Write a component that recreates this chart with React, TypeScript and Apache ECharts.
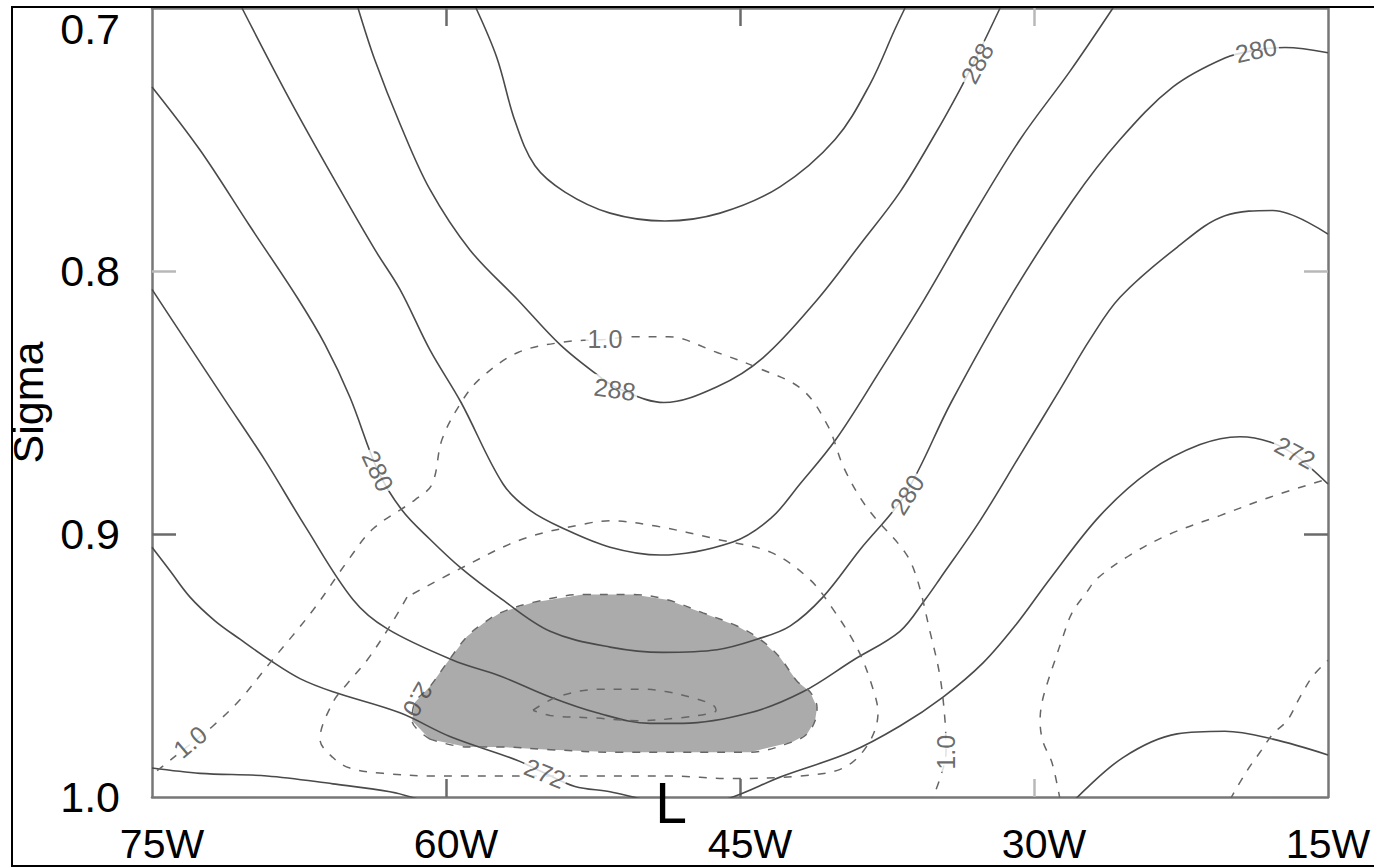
import React, { useEffect, useRef } from 'react';
import * as echarts from 'echarts';

// ---- axis ticks / labels ----
const xLabelValues = [-75, -60, -45, -30, -15];
const xDarkTicks = [-60, -45];
const xLightTicks = [-30];
const yDarkTicks = [0.9];
const yLightTicks = [0.8];

// ---- solid contours (potential temperature) [lon(E, negative = W), sigma] ----
const theta292 = [[-58.47,0.700],[-57.40,0.719],[-56.48,0.743],[-55.46,0.760],[-53.93,0.770],[-51.63,0.778],[-48.83,0.781],[-46.02,0.778],[-42.96,0.768],[-40.15,0.750],[-38.37,0.729],[-37.09,0.708],[-36.58,0.700]];
const theta288 = [[-64.49,0.700],[-63.62,0.720],[-62.35,0.744],[-60.82,0.769],[-58.78,0.792],[-56.33,0.811],[-54.18,0.828],[-52.19,0.840],[-51.12,0.845],[-48.88,0.850],[-46.17,0.844],[-43.83,0.833],[-41.07,0.811],[-38.88,0.790],[-36.84,0.770],[-35.05,0.748],[-33.78,0.731],[-32.76,0.716],[-31.73,0.700]];
const theta284 = [[-70.41,0.700],[-67.96,0.735],[-65.41,0.769],[-63.62,0.792],[-62.35,0.807],[-60.82,0.830],[-59.23,0.850],[-57.09,0.881],[-55.71,0.891],[-53.98,0.898],[-51.63,0.905],[-49.08,0.908],[-45.36,0.903],[-43.42,0.894],[-41.94,0.881],[-40.10,0.864],[-37.86,0.838],[-35.61,0.811],[-33.27,0.781],[-30.71,0.750],[-28.16,0.724],[-25.97,0.700]];
const theta280 = [[-75.00,0.730],[-72.55,0.754],[-70.00,0.783],[-67.60,0.810],[-66.17,0.828],[-64.90,0.848],[-63.47,0.876],[-62.24,0.891],[-60.82,0.902],[-59.23,0.913],[-57.30,0.924],[-54.69,0.937],[-51.63,0.943],[-48.93,0.945],[-46.17,0.944],[-44.13,0.940],[-42.45,0.935],[-40.77,0.924],[-38.88,0.906],[-36.58,0.885],[-34.23,0.850],[-31.22,0.810],[-28.01,0.773],[-25.61,0.750],[-22.91,0.730],[-20.26,0.719],[-18.67,0.716],[-17.19,0.715],[-15.00,0.717]];
const theta276 = [[-75.00,0.807],[-73.32,0.826],[-71.28,0.849],[-69.23,0.872],[-67.19,0.897],[-64.74,0.925],[-63.01,0.936],[-59.64,0.948],[-57.24,0.954],[-54.69,0.962],[-52.30,0.968],[-49.59,0.972],[-47.91,0.972],[-44.49,0.968],[-41.79,0.960],[-39.23,0.948],[-36.84,0.937],[-35.56,0.925],[-34.80,0.917],[-32.76,0.895],[-30.71,0.870],[-28.67,0.845],[-27.14,0.826],[-25.61,0.810],[-22.70,0.791],[-20.26,0.779],[-17.81,0.777],[-15.00,0.786]];
const theta272 = [[-75.00,0.905],[-74.08,0.914],[-73.06,0.924],[-71.79,0.933],[-70.51,0.940],[-68.98,0.948],[-67.45,0.955],[-65.77,0.960],[-62.35,0.968],[-59.80,0.977],[-56.38,0.986],[-54.95,0.991],[-53.42,0.996],[-51.63,0.998],[-49.85,1.001],[-47.81,1.003],[-45.77,1.001],[-42.81,0.992],[-39.39,0.983],[-36.84,0.973],[-34.64,0.962],[-32.60,0.949],[-30.87,0.934],[-29.18,0.917],[-26.63,0.893],[-24.08,0.876],[-21.53,0.866],[-19.49,0.863],[-17.96,0.865],[-16.68,0.870],[-15.00,0.881]];
const theta268West = [[-75.00,0.989],[-72.55,0.991],[-69.13,0.992],[-65.77,0.995],[-62.86,0.998],[-61.33,1.001]];
const theta268East = [[-27.91,1.001],[-25.46,0.985],[-22.70,0.976],[-20.26,0.975],[-17.81,0.978],[-15.00,0.984]];

// ---- dashed contours ----
const dash10 = [[-74.74,0.990],[-73.06,0.980],[-71.89,0.973],[-70.51,0.963],[-68.98,0.949],[-66.79,0.929],[-64.90,0.909],[-63.72,0.898],[-61.58,0.887],[-60.71,0.881],[-60.20,0.864],[-59.23,0.850],[-58.27,0.841],[-56.33,0.831],[-53.98,0.827],[-51.89,0.826],[-50.46,0.825],[-48.67,0.825],[-46.17,0.831],[-44.03,0.837],[-41.84,0.845],[-40.51,0.859],[-39.69,0.875],[-38.52,0.890],[-36.58,0.907],[-35.97,0.917],[-35.31,0.937],[-34.80,0.954],[-34.54,0.971],[-34.49,0.983],[-34.80,0.993],[-35.20,1.001]];
const dash15 = [[-61.99,0.924],[-62.86,0.935],[-64.03,0.948],[-65.05,0.957],[-65.77,0.964],[-66.43,0.978],[-65.77,0.985],[-64.90,0.989],[-63.21,0.991],[-60.66,0.992],[-57.24,0.992],[-52.14,0.992],[-48.72,0.992],[-45.36,0.993],[-41.94,0.992],[-39.74,0.989],[-38.47,0.980],[-37.96,0.968],[-38.21,0.959],[-38.98,0.944],[-40.31,0.928],[-41.48,0.917],[-43.42,0.907],[-46.17,0.902],[-49.29,0.897],[-51.63,0.895],[-52.81,0.896],[-56.12,0.902],[-59.23,0.913],[-61.99,0.924]];
const dash20 = [[-60.82,0.978],[-61.73,0.971],[-61.58,0.964],[-60.82,0.958],[-59.95,0.949],[-58.93,0.939],[-58.11,0.934],[-57.24,0.930],[-55.56,0.926],[-53.01,0.923],[-50.46,0.923],[-48.72,0.925],[-46.89,0.930],[-45.15,0.935],[-43.98,0.940],[-42.96,0.947],[-42.09,0.956],[-41.43,0.960],[-41.07,0.966],[-41.17,0.971],[-41.58,0.976],[-42.30,0.979],[-44.49,0.983],[-47.91,0.983],[-51.28,0.983],[-54.69,0.982],[-57.24,0.981],[-58.93,0.981],[-60.82,0.978]];
const dash30 = [[-55.56,0.967],[-54.34,0.962],[-52.14,0.959],[-50.97,0.959],[-49.95,0.959],[-48.72,0.960],[-47.55,0.962],[-46.38,0.965],[-46.22,0.967],[-46.38,0.968],[-48.21,0.970],[-50.26,0.971],[-52.30,0.970],[-54.69,0.969],[-55.56,0.967]];
const dashEast1 = [[-28.67,1.001],[-29.08,0.987],[-29.54,0.979],[-29.69,0.971],[-29.59,0.964],[-29.29,0.956],[-28.93,0.948],[-28.52,0.939],[-28.06,0.930],[-27.30,0.922],[-26.79,0.917],[-25.10,0.908],[-23.06,0.900],[-20.51,0.893],[-17.96,0.886],[-15.00,0.879]];
const dashEast2 = [[-20.00,1.001],[-19.13,0.990],[-18.47,0.983],[-17.81,0.976],[-17.09,0.971],[-16.43,0.962],[-15.77,0.954],[-15.00,0.948]];

// ---- contour labels: [lon, sigma, text, rotation] ----
const contourLabels: [number, number, string, number][] = [
  [-32.91, 0.721, '288', 62],
  [-18.67, 0.716, '280', 12],
  [-51.89, 0.826, '1.0', 0],
  [-51.38, 0.845, '288', -8],
  [-63.47, 0.876, '280', -65],
  [-36.48, 0.885, '280', 58],
  [-16.68, 0.869, '272', -28],
  [-61.43, 0.963, '2.0', -120],
  [-73.06, 0.979, '1.0', 40],
  [-34.49, 0.983, '1.0', 90],
  [-54.95, 0.991, '272', -22],
];

const FONT = 'Liberation Sans, Arial, Helvetica, sans-serif';

export default function App() {
  const ref = useRef<HTMLDivElement>(null);
  useEffect(() => {
    document.body.style.margin = '0';
    const chart = echarts.init(ref.current as HTMLDivElement, null, { renderer: 'svg' });
    const axisLine = { show: true, lineStyle: { color: '#777', width: 2.5 } };
    const dark = { color: '#6a6a6a', width: 2.5 };
    const light = { color: '#b8b8b8', width: 2.5 };
    const xBase = { type: 'value', min: -75, max: -15, interval: 15, splitLine: { show: false } };
    const yBase = { type: 'value', min: 0.7, max: 1.0, interval: 0.1, inverse: true, splitLine: { show: false } };

    const solid = [theta292, theta288, theta284, theta280, theta276, theta272, theta268West, theta268East];
    const dashed = [dash10, dash15, dash20, dash30, dashEast1, dashEast2];

    const series: any[] = [
      {
        type: 'custom',
        coordinateSystem: 'cartesian2d',
        clip: true,
        silent: true,
        z: 1,
        data: [[dash20[0][0], dash20[0][1]]],
        renderItem: (_p: any, api: any) => ({
          type: 'polygon',
          shape: { points: dash20.map((d) => api.coord(d)) },
          style: { fill: '#ababab' },
        }),
      },
    ];
    solid.forEach((d) =>
      series.push({
        type: 'line', data: d, showSymbol: false, symbol: 'none', smooth: 0.35, silent: true, z: 3,
        lineStyle: { color: '#4a4a4a', width: 1.6 },
      })
    );
    dashed.forEach((d) =>
      series.push({
        type: 'line', data: d, showSymbol: false, symbol: 'none', smooth: 0.35, silent: true, z: 3,
        lineStyle: { color: '#666', width: 1.5, type: [8, 9] },
      })
    );
    series.push({
      type: 'scatter',
      symbolSize: 0,
      silent: true,
      z: 5,
      data: contourLabels.map(([x, y, t, r]) => ({
        value: [x, y],
        name: t,
        label: { rotate: r, backgroundColor: t === '2.0' ? 'transparent' : '#fff' },
      })),
      label: {
        show: true,
        position: 'inside',
        formatter: (p: any) => p.name,
        fontSize: 25,
        fontFamily: FONT,
        color: '#444',
        padding: [0, 2],
      },
    });

    chart.setOption({
      animation: false,
      grid: { left: 152, top: 8, right: 46, bottom: 71, outerBoundsMode: 'none', containLabel: false },
      xAxis: [
        {
          ...xBase, position: 'bottom', axisLine,
          axisTick: { show: true, inside: true, length: 18, customValues: xDarkTicks, lineStyle: dark },
          axisLabel: {
            customValues: xLabelValues,
            formatter: (v: number) => (v > -16 ? '{e|15W}' : `${Math.round(-v)}W`),
            fontSize: 41, lineHeight: 34, fontFamily: FONT, color: '#000', margin: 30, padding: [0, 0, 0, 20],
            rich: { e: { fontSize: 41, lineHeight: 34, fontFamily: FONT, color: '#000', padding: [0, 20, 0, 0] } },
          },
        },
        {
          ...xBase, position: 'bottom', axisLine: { show: false },
          axisTick: { show: true, inside: true, length: 18, customValues: xLightTicks, lineStyle: light },
          axisLabel: { show: false },
        },
        {
          ...xBase, position: 'top', axisLine,
          axisTick: { show: true, inside: true, length: 18, customValues: xDarkTicks, lineStyle: dark },
          axisLabel: { show: false },
        },
        {
          ...xBase, position: 'top', axisLine: { show: false },
          axisTick: { show: true, inside: true, length: 18, customValues: xLightTicks, lineStyle: light },
          axisLabel: { show: false },
        },
      ],
      yAxis: [
        {
          ...yBase, position: 'left', axisLine,
          name: 'Sigma', nameLocation: 'middle', nameRotate: 90, nameGap: 95,
          nameTextStyle: { fontSize: 43, fontFamily: FONT, color: '#000' },
          axisTick: { show: true, inside: true, length: 24, customValues: yDarkTicks, lineStyle: dark },
          axisLabel: {
            fontSize: 43, fontFamily: FONT, color: '#000', margin: 32,
            formatter: (v: number) => (v < 0.75 ? '{t|0.7}' : v.toFixed(1)),
            rich: { t: { fontSize: 43, fontFamily: FONT, color: '#000', padding: [42, 0, 0, 0] } },
          },
        },
        {
          ...yBase, position: 'left', axisLine: { show: false },
          axisTick: { show: true, inside: true, length: 24, customValues: yLightTicks, lineStyle: light },
          axisLabel: { show: false },
        },
        {
          ...yBase, position: 'right', axisLine,
          axisTick: { show: true, inside: true, length: 24, customValues: yDarkTicks, lineStyle: dark },
          axisLabel: { show: false },
        },
        {
          ...yBase, position: 'right', axisLine: { show: false },
          axisTick: { show: true, inside: true, length: 24, customValues: yLightTicks, lineStyle: light },
          axisLabel: { show: false },
        },
      ],
      graphic: [
        {
          type: 'rect', z: 100, silent: true,
          shape: { x: 12, y: 7, width: 1400, height: 859 },
          style: { fill: 'none', stroke: '#000', lineWidth: 2 },
        },
        {
          type: 'text', z: 100, silent: true, x: 671, y: 803,
          style: {
            text: 'L', fontSize: 57, fontFamily: FONT, fill: '#000',
            align: 'center', verticalAlign: 'middle', textAlign: 'center', textVerticalAlign: 'middle',
          },
        },
      ],
      series,
    });
    return () => chart.dispose();
  }, []);
  return <div ref={ref} style={{ position: 'absolute', left: 0, top: 0, width: 1374, height: 868 }} />;
}
